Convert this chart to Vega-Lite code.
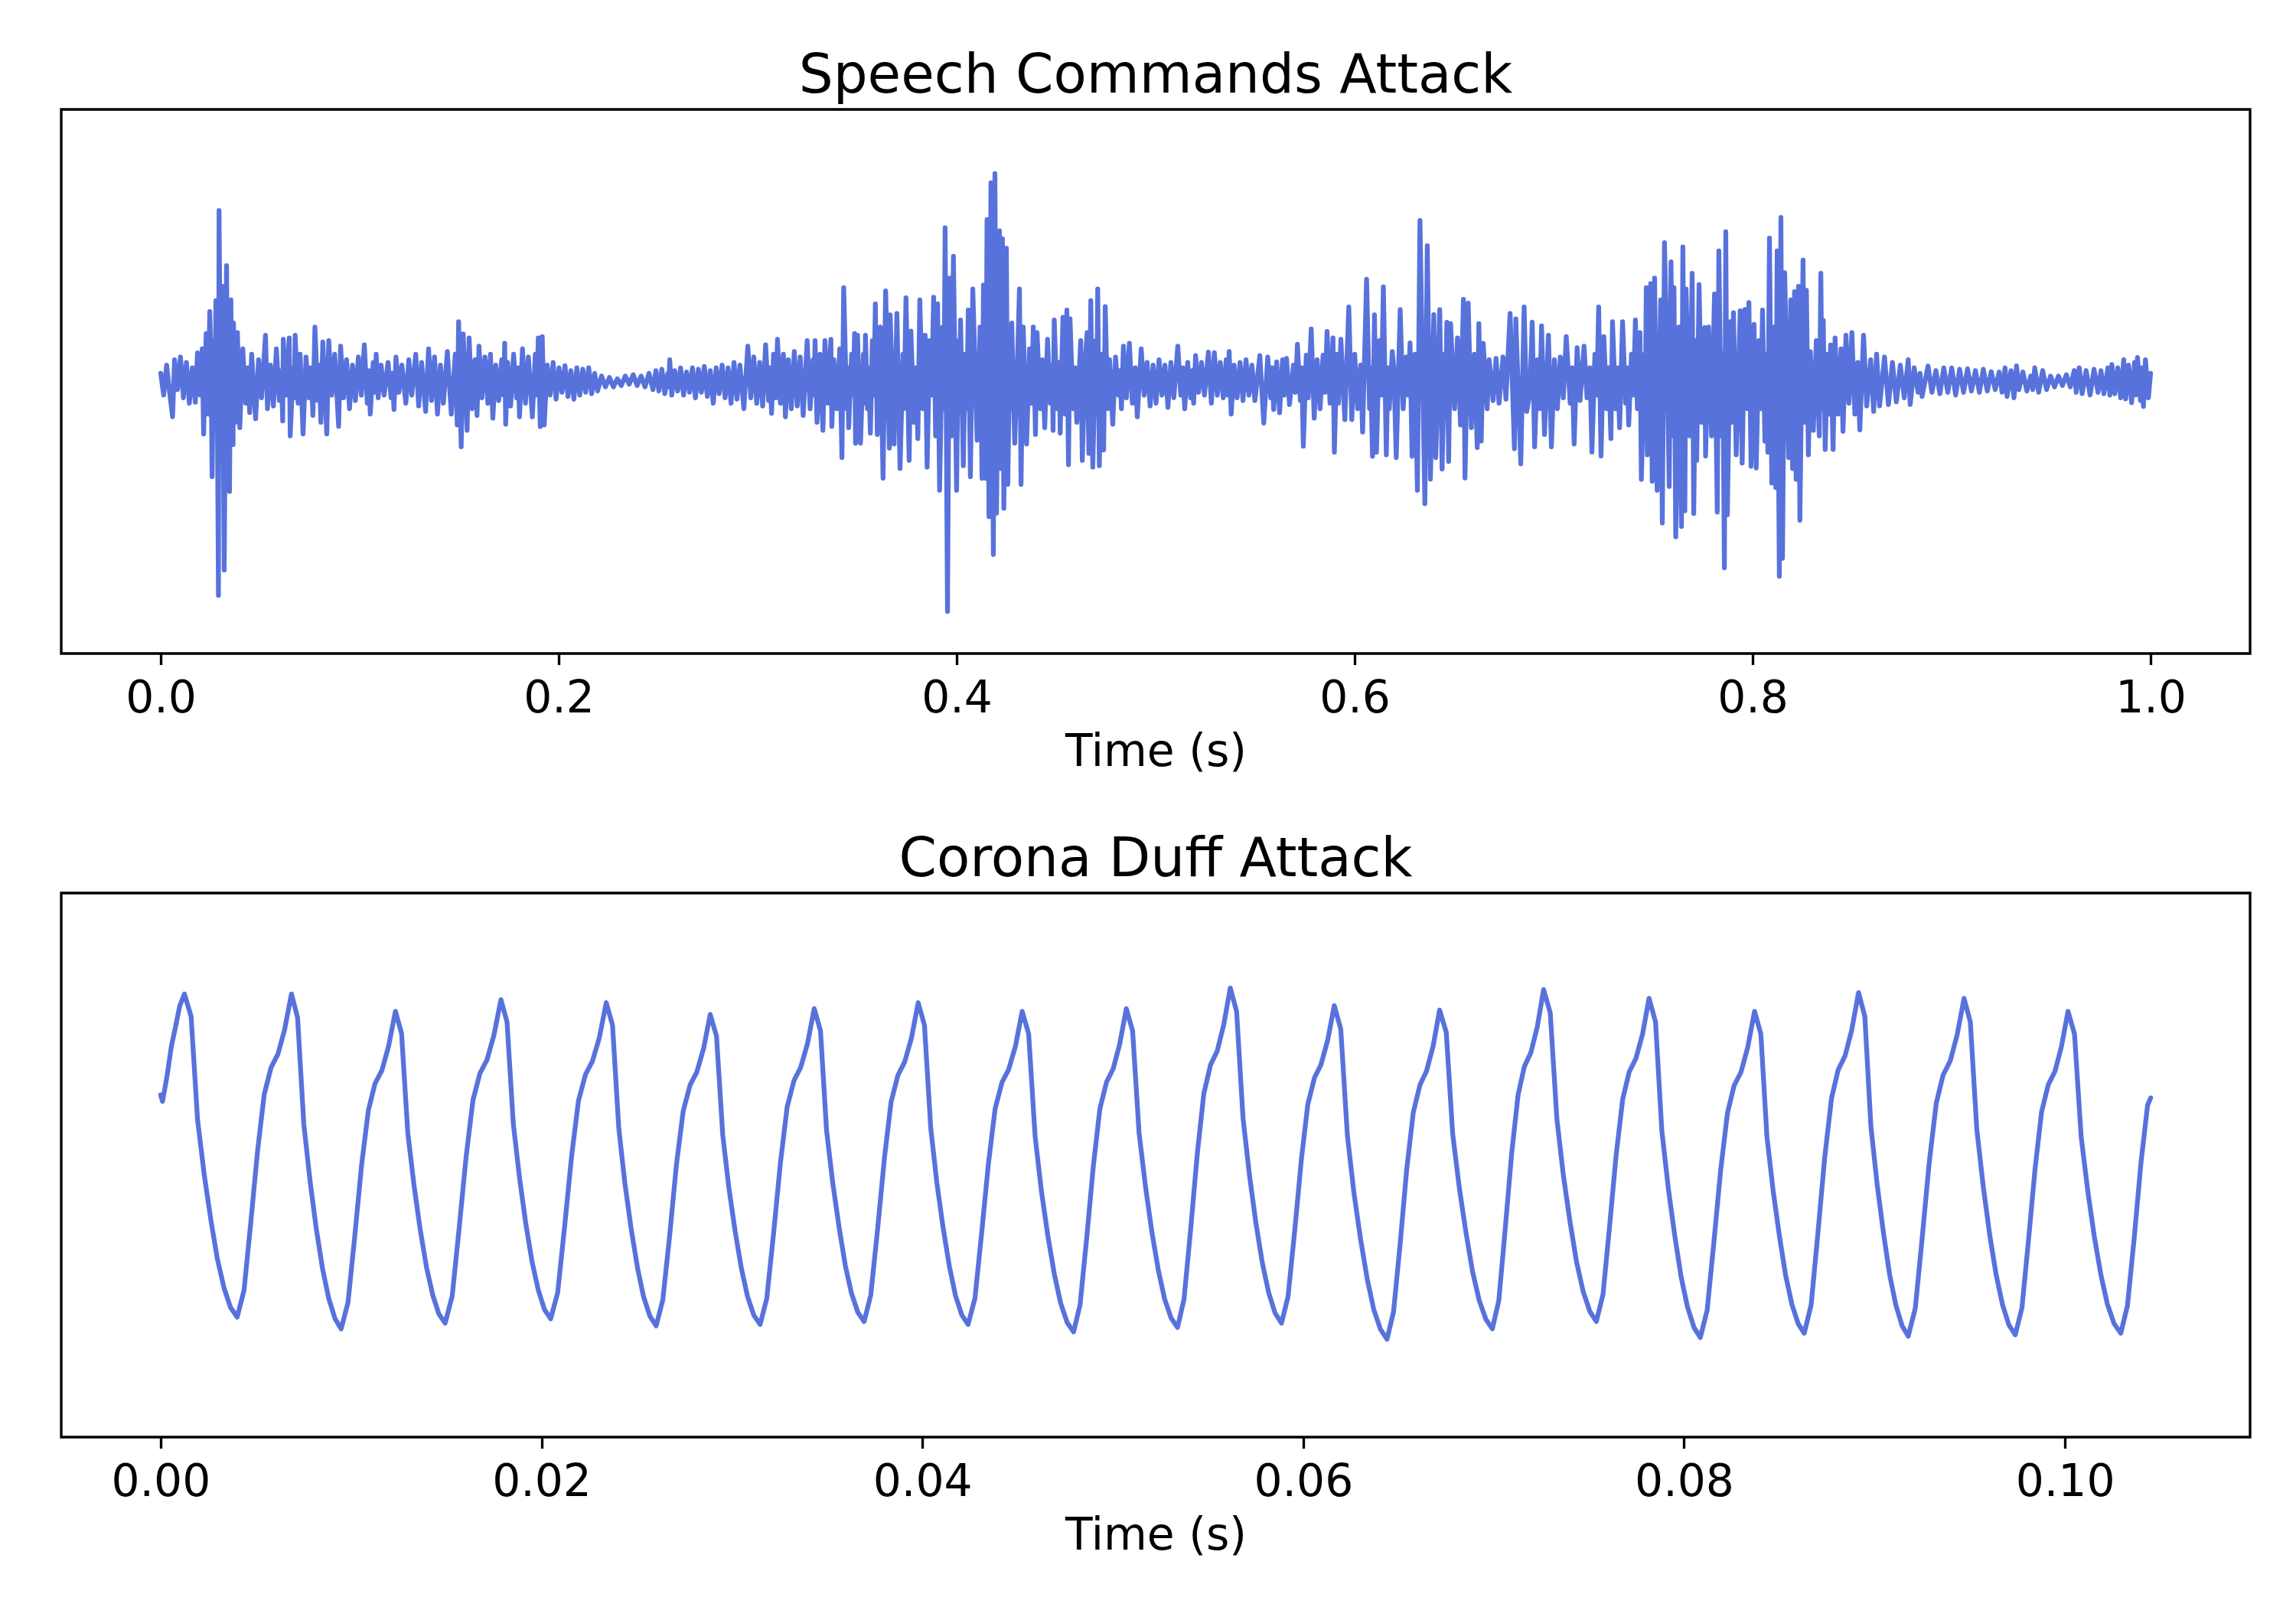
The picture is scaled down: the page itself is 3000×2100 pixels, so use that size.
{
  "$schema": "https://vega.github.io/schema/vega-lite/v6.json",
  "background": "white",
  "padding": {"left": 78, "top": 62, "right": 60, "bottom": 60},
  "spacing": 72,
  "config": {
    "font": "DejaVu Sans",
    "view": {"stroke": "black", "strokeWidth": 3.33},
    "axis": {"labelFont": "DejaVu Sans", "labelFontSize": 58.3, "labelColor": "black", "titleFont": "DejaVu Sans", "titleFontSize": 58.3, "titleFontWeight": "normal", "titleColor": "black", "tickColor": "black", "tickWidth": 3.33, "tickSize": 14.6, "labelPadding": 15.4, "titlePadding": 13, "domain": false, "grid": false, "labelFlush": false, "labelOverlap": false},
    "title": {"font": "DejaVu Sans", "fontSize": 70.8, "fontWeight": "normal", "color": "black", "anchor": "middle", "baseline": "alphabetic", "offset": 7}
  },
  "datasets": {
    "speech": [
{"t":0,"a":0.03},{"t":0.00149,"a":-0.05},{"t":0.00298,"a":0.06},{"t":0.00447,"a":-0.04},{"t":0.00596,"a":-0.13},{"t":0.00695,"a":0.08},{"t":0.00844,"a":-0.03},{"t":0.00993,"a":0.09},{"t":0.01142,"a":-0.06},{"t":0.01291,"a":0.07},{"t":0.0144,"a":-0.08},{"t":0.0159,"a":0.05},{"t":0.01739,"a":-0.076},{"t":0.01848,"a":0.105},{"t":0.01987,"a":-0.05},
{"t":0.02086,"a":0.12},{"t":0.02156,"a":-0.193},{"t":0.02285,"a":0.176},{"t":0.02384,"a":-0.12},{"t":0.02464,"a":0.257},{"t":0.02523,"a":0.1},{"t":0.02583,"a":-0.35},{"t":0.02662,"a":0.15},{"t":0.02722,"a":-0.1},{"t":0.02772,"a":0.297},{"t":0.02831,"a":0.1},{"t":0.02901,"a":-0.786},{"t":0.02931,"a":0.628},{"t":0.0303,"a":-0.3},{"t":0.031,"a":0.35},{"t":0.03189,"a":-0.693},{"t":0.03308,"a":0.426},{"t":0.03378,"a":-0.25},{"t":0.03427,"a":0.05},{"t":0.03457,"a":-0.404},{"t":0.03527,"a":0.3},{"t":0.03576,"a":-0.2},{"t":0.03606,"a":0.1},{"t":0.03636,"a":-0.232},{"t":0.03656,"a":0.215},{"t":0.03755,"a":-0.15},{"t":0.03855,"a":0.18},
{"t":0.03974,"a":-0.17},{"t":0.04123,"a":0.12},{"t":0.04272,"a":-0.08},{"t":0.04371,"a":0.05},{"t":0.0447,"a":-0.114},{"t":0.0457,"a":0.1},{"t":0.04769,"a":-0.137},{"t":0.04918,"a":0.08},{"t":0.05067,"a":-0.06},{"t":0.05265,"a":0.17},{"t":0.05365,"a":-0.1},{"t":0.05514,"a":0.06},{"t":0.05663,"a":-0.09},{"t":0.05812,"a":0.12},{"t":0.05961,"a":-0.07},{"t":0.0606,"a":0.04},{"t":0.0613,"a":-0.145},{"t":0.06159,"a":0.155},{"t":0.06308,"a":-0.05},{"t":0.06457,"a":0.16},{"t":0.06507,"a":-0.2},{"t":0.06656,"a":0.05},{"t":0.06706,"a":-0.06},{"t":0.06755,"a":0.17},{"t":0.06904,"a":-0.08},{"t":0.07004,"a":0.1},{"t":0.07153,"a":-0.193},{"t":0.07302,"a":0.09},{"t":0.07451,"a":-0.06},{"t":0.0755,"a":0.05},{"t":0.07649,"a":-0.125},{"t":0.07749,"a":0.2},{"t":0.07898,"a":-0.07},{"t":0.07967,"a":0.06},{"t":0.08047,"a":-0.15},{"t":0.08146,"a":0.145},{"t":0.08345,"a":-0.193},{"t":0.08444,"a":0.15},{"t":0.08593,"a":-0.05},{"t":0.08742,"a":0.1},{"t":0.08941,"a":-0.165},{"t":0.0904,"a":0.13},{"t":0.09189,"a":-0.06},{"t":0.09338,"a":0.08},{"t":0.09487,"a":-0.1},{"t":0.09636,"a":0.06},{"t":0.09785,"a":-0.07},{"t":0.09934,"a":0.09},{"t":0.10083,"a":-0.05},{"t":0.10232,"a":0.135},{"t":0.10381,"a":-0.08},{"t":0.10451,"a":0.04},{"t":0.1053,"a":-0.12},{"t":0.10679,"a":0.07},{"t":0.10779,"a":-0.04},{"t":0.10828,"a":0.1},{"t":0.10928,"a":-0.06},{"t":0.11077,"a":0.06},{"t":0.11226,"a":-0.05},{"t":0.11425,"a":0.07},{"t":0.11574,"a":-0.06},{"t":0.11643,"a":0.03},{"t":0.11723,"a":-0.103},{"t":0.11822,"a":0.09},{"t":0.11971,"a":-0.04},{"t":0.1212,"a":0.06},{"t":0.12319,"a":-0.08},{"t":0.12468,"a":0.08},{"t":0.12617,"a":-0.05},{"t":0.12815,"a":0.1},{"t":0.12964,"a":-0.09},{"t":0.13113,"a":0.07},{"t":0.13312,"a":-0.11},{"t":0.13461,"a":0.12},{"t":0.1361,"a":-0.07},{"t":0.13759,"a":0.09},{"t":0.13908,"a":-0.12},{"t":0.14057,"a":0.06},{"t":0.14206,"a":-0.08},{"t":0.14405,"a":0.11},
{"t":0.14604,"a":-0.12},{"t":0.14802,"a":0.1},{"t":0.14902,"a":-0.16},{"t":0.14971,"a":0.22},{"t":0.151,"a":-0.24},{"t":0.152,"a":0.175},{"t":0.15398,"a":-0.18},{"t":0.15498,"a":0.16},{"t":0.15647,"a":-0.1},{"t":0.15796,"a":0.08},
{"t":0.15895,"a":-0.125},{"t":0.15994,"a":0.13},{"t":0.16143,"a":-0.06},{"t":0.16292,"a":0.09},{"t":0.16441,"a":-0.08},{"t":0.16571,"a":0.1},{"t":0.1669,"a":-0.135},{"t":0.16839,"a":0.06},{"t":0.16988,"a":-0.07},{"t":0.17137,"a":0.08},{"t":0.17236,"a":-0.05},{"t":0.17286,"a":0.14},{"t":0.17336,"a":-0.157},{"t":0.17435,"a":0.07},{"t":0.17584,"a":-0.09},{"t":0.17733,"a":0.1},{"t":0.17882,"a":-0.06},{"t":0.17961,"a":0.05},{"t":0.18031,"a":-0.13},{"t":0.1818,"a":0.12},{"t":0.18329,"a":-0.08},{"t":0.18478,"a":0.09},{"t":0.18677,"a":-0.13},{"t":0.18826,"a":0.1},{"t":0.18905,"a":-0.05},{"t":0.18975,"a":0.16},{"t":0.19074,"a":-0.166},{"t":0.19173,"a":0.165},{"t":0.19273,"a":-0.16},
{"t":0.19422,"a":0.06},{"t":0.19571,"a":-0.05},{"t":0.1972,"a":0.07},{"t":0.19869,"a":-0.065},{"t":0.20018,"a":0.05},{"t":0.20167,"a":-0.04},{"t":0.20316,"a":0.058},{"t":0.20465,"a":-0.055},{"t":0.20614,"a":0.04},{"t":0.20763,"a":-0.065},{"t":0.20912,"a":0.05},{"t":0.21061,"a":-0.05},{"t":0.2121,"a":0.045},{"t":0.21359,"a":-0.04},{"t":0.21508,"a":0.05},{"t":0.21657,"a":-0.045},{"t":0.21806,"a":0.03},{"t":0.21955,"a":-0.035},
{"t":0.22154,"a":0.02},{"t":0.22352,"a":-0.02},{"t":0.22551,"a":0.015},{"t":0.2275,"a":-0.02},{"t":0.22948,"a":0.01},{"t":0.23147,"a":-0.015},{"t":0.23346,"a":0.02},{"t":0.23545,"a":-0.01},{"t":0.23743,"a":0.025},{"t":0.23942,"a":-0.015},{"t":0.24141,"a":0.02},{"t":0.24339,"a":-0.02},{"t":0.24538,"a":0.03},{"t":0.24737,"a":-0.03},
{"t":0.24886,"a":0.04},{"t":0.25035,"a":-0.035},{"t":0.25184,"a":0.045},{"t":0.25333,"a":-0.045},{"t":0.25482,"a":0.03},{"t":0.25531,"a":-0.02},{"t":0.25581,"a":0.08},{"t":0.2568,"a":-0.05},{"t":0.25829,"a":0.04},{"t":0.25978,"a":-0.035},{"t":0.26127,"a":0.05},{"t":0.26276,"a":-0.05},{"t":0.26426,"a":0.035},{"t":0.26575,"a":-0.04},{"t":0.26724,"a":0.05},{"t":0.26873,"a":-0.06},{"t":0.27022,"a":0.045},{"t":0.27171,"a":-0.04},{"t":0.2732,"a":0.055},{"t":0.27469,"a":-0.055},{"t":0.27618,"a":0.04},{"t":0.27767,"a":-0.08},{"t":0.27916,"a":0.05},{"t":0.28065,"a":-0.045},{"t":0.28214,"a":0.06},{"t":0.28363,"a":-0.06},{"t":0.28512,"a":0.05},{"t":0.28661,"a":-0.08},{"t":0.2881,"a":0.07},{"t":0.28959,"a":-0.065},{"t":0.29108,"a":0.06},
{"t":0.29306,"a":-0.1},{"t":0.29505,"a":0.13},{"t":0.29654,"a":-0.06},{"t":0.29803,"a":0.09},{"t":0.29952,"a":-0.08},{"t":0.30101,"a":0.07},{"t":0.3025,"a":-0.09},{"t":0.30399,"a":0.135},{"t":0.30548,"a":-0.07},{"t":0.30618,"a":0.05},{"t":0.30697,"a":-0.117},{"t":0.30797,"a":0.1},{"t":0.30916,"a":-0.06},{"t":0.30995,"a":0.155},{"t":0.31144,"a":-0.08},{"t":0.31293,"a":0.1},{"t":0.31393,"a":-0.13},{"t":0.31542,"a":0.08},{"t":0.31691,"a":-0.1},{"t":0.3184,"a":0.11},{"t":0.31989,"a":-0.09},{"t":0.32138,"a":0.09},{"t":0.32287,"a":-0.125},
{"t":0.32486,"a":0.15},{"t":0.32635,"a":-0.1},{"t":0.32784,"a":0.08},{"t":0.32833,"a":-0.05},{"t":0.32883,"a":0.15},{"t":0.32982,"a":-0.15},{"t":0.33131,"a":0.1},{"t":0.3328,"a":-0.18},{"t":0.3338,"a":0.15},{"t":0.33529,"a":-0.08},{"t":0.33678,"a":0.155},{"t":0.33727,"a":-0.165},{"t":0.33827,"a":0.08},{"t":0.33976,"a":-0.1},{"t":0.34125,"a":0.12},
{"t":0.34234,"a":-0.28},{"t":0.34323,"a":0.345},{"t":0.34472,"a":-0.1},{"t":0.34522,"a":0.05},{"t":0.34572,"a":-0.17},{"t":0.34721,"a":0.1},{"t":0.3479,"a":-0.05},{"t":0.3487,"a":0.176},{"t":0.34919,"a":-0.227},{"t":0.35019,"a":0.17},{"t":0.35168,"a":-0.227},{"t":0.35317,"a":0.1},{"t":0.35366,"a":-0.08},{"t":0.35416,"a":0.17},{"t":0.35515,"a":-0.1},{"t":0.35565,"a":0.05},{"t":0.35664,"a":-0.19},{"t":0.35764,"a":0.15},{"t":0.35843,"a":-0.05},{"t":0.35913,"a":0.285},{"t":0.36012,"a":-0.195},{"t":0.36161,"a":0.2},{"t":0.363,"a":-0.356},{"t":0.36429,"a":0.333},{"t":0.36618,"a":-0.245},{"t":0.36658,"a":0.245},{"t":0.36857,"a":-0.23},{"t":0.36996,"a":0.25},{"t":0.37155,"a":-0.32},{"t":0.37304,"a":0.1},{"t":0.37353,"a":-0.1},{"t":0.37453,"a":0.308},{"t":0.37612,"a":-0.29},{"t":0.37701,"a":0.185},{"t":0.3785,"a":-0.15},{"t":0.37949,"a":0.05},{"t":0.38049,"a":-0.21},{"t":0.38148,"a":0.3},{"t":0.38297,"a":-0.1},{"t":0.38416,"a":0.17},{"t":0.38516,"a":-0.315},{"t":0.38645,"a":0.15},{"t":0.38744,"a":-0.05},{"t":0.38843,"a":0.31},{"t":0.38943,"a":-0.2},{"t":0.39042,"a":0.285},{"t":0.39142,"a":-0.4},
{"t":0.39291,"a":0.2},{"t":0.3936,"a":-0.1},{"t":0.3942,"a":0.565},{"t":0.39539,"a":-0.845},{"t":0.39638,"a":0.38},{"t":0.39738,"a":-0.2},{"t":0.39837,"a":0.46},{"t":0.39996,"a":-0.4},{"t":0.40085,"a":0.15},{"t":0.40135,"a":-0.05},{"t":0.40195,"a":0.226},{"t":0.40334,"a":-0.31},{"t":0.40433,"a":0.1},{"t":0.40512,"a":-0.1},{"t":0.40582,"a":0.263},{"t":0.40691,"a":-0.35},{"t":0.40811,"a":0.34},{"t":0.41029,"a":-0.216},{"t":0.41178,"a":0.2},{"t":0.41277,"a":-0.356},{"t":0.41347,"a":0.355},{"t":0.41456,"a":-0.356},{"t":0.41526,"a":0.595},{"t":0.41625,"a":-0.497},{"t":0.41724,"a":0.73},{"t":0.41844,"a":-0.636},{"t":0.41923,"a":0.764},{"t":0.42003,"a":-0.484},{"t":0.42152,"a":0.554},{"t":0.42221,"a":-0.32},{"t":0.42301,"a":0.524},{"t":0.4237,"a":-0.466},{"t":0.42499,"a":0.49},{"t":0.42569,"a":-0.378},
{"t":0.42668,"a":0.1},{"t":0.42718,"a":-0.1},{"t":0.42768,"a":0.215},{"t":0.42917,"a":-0.227},{"t":0.43066,"a":0.1},{"t":0.43155,"a":0.34},{"t":0.43235,"a":-0.378},{"t":0.43344,"a":0.2},{"t":0.43513,"a":-0.23},{"t":0.43662,"a":0.12},{"t":0.43761,"a":-0.08},{"t":0.4385,"a":0.2},{"t":0.4396,"a":-0.195},{"t":0.44039,"a":0.18},{"t":0.44208,"a":-0.1},{"t":0.44307,"a":0.08},{"t":0.44427,"a":-0.17},{"t":0.44566,"a":0.155},{"t":0.44705,"a":-0.08},{"t":0.44804,"a":0.06},{"t":0.44844,"a":-0.18},{"t":0.44903,"a":0.226},{"t":0.45053,"a":-0.1},{"t":0.45152,"a":0.07},{"t":0.45202,"a":-0.19},{"t":0.45341,"a":0.236},{"t":0.4545,"a":-0.12},{"t":0.45539,"a":0.263},{"t":0.45619,"a":-0.306},{"t":0.45698,"a":0.23},{"t":0.45847,"a":-0.1},{"t":0.45947,"a":0.05},{"t":0.46036,"a":-0.15},{"t":0.46235,"a":0.15},{"t":0.46314,"a":-0.29},{"t":0.46443,"a":0.05},{"t":0.46553,"a":0.18},{"t":0.46642,"a":-0.264},{"t":0.46741,"a":0.297},{"t":0.46841,"a":-0.315},{"t":0.4699,"a":0.15},{"t":0.47039,"a":-0.05},{"t":0.47089,"a":0.34},{"t":0.47169,"a":-0.31},{"t":0.47288,"a":0.1},{"t":0.47387,"a":-0.252},{"t":0.47467,"a":0.275},{"t":0.47586,"a":-0.1},
{"t":0.47685,"a":0.08},{"t":0.47844,"a":-0.157},{"t":0.47983,"a":0.09},{"t":0.48132,"a":-0.05},{"t":0.48202,"a":0.04},{"t":0.48281,"a":-0.1},{"t":0.48381,"a":0.13},{"t":0.4853,"a":-0.06},{"t":0.48679,"a":0.14},{"t":0.48828,"a":-0.08},{"t":0.48977,"a":0.05},{"t":0.49076,"a":-0.13},{"t":0.49275,"a":0.12},{"t":0.49424,"a":-0.05},{"t":0.49573,"a":0.07},{"t":0.49722,"a":-0.09},{"t":0.49871,"a":0.06},{"t":0.5002,"a":-0.08},{"t":0.50169,"a":0.08},{"t":0.50318,"a":-0.05},{"t":0.50467,"a":0.06},{"t":0.50616,"a":-0.095},{"t":0.50765,"a":0.07},{"t":0.50914,"a":-0.06},{"t":0.51113,"a":0.13},{"t":0.51262,"a":-0.05},{"t":0.51361,"a":0.05},{"t":0.5146,"a":-0.1},{"t":0.51609,"a":0.07},
{"t":0.51758,"a":-0.06},{"t":0.51838,"a":0.04},{"t":0.51907,"a":-0.08},{"t":0.52007,"a":0.095},{"t":0.52156,"a":-0.04},{"t":0.52305,"a":0.07},{"t":0.52454,"a":-0.05},{"t":0.52652,"a":0.108},{"t":0.52801,"a":-0.08},{"t":0.5295,"a":0.106},{"t":0.53099,"a":-0.05},{"t":0.53248,"a":0.07},{"t":0.53397,"a":-0.06},{"t":0.53546,"a":0.08},{"t":0.53626,"a":-0.05},{"t":0.53695,"a":0.11},{"t":0.53795,"a":-0.12},{"t":0.53944,"a":0.06},{"t":0.54093,"a":-0.06},{"t":0.54242,"a":0.07},{"t":0.54391,"a":-0.07},{"t":0.5454,"a":0.08},{"t":0.54689,"a":-0.05},{"t":0.54838,"a":0.06},{"t":0.54987,"a":-0.07},{"t":0.55235,"a":0.095},{"t":0.55434,"a":-0.153},{"t":0.55633,"a":0.09},{"t":0.55782,"a":-0.06},{"t":0.55851,"a":0.05},
{"t":0.55931,"a":-0.103},{"t":0.5608,"a":0.072},{"t":0.56229,"a":-0.115},{"t":0.56378,"a":0.08},{"t":0.56457,"a":-0.05},{"t":0.56577,"a":0.085},{"t":0.56726,"a":-0.085},{"t":0.56924,"a":0.06},{"t":0.57023,"a":-0.04},{"t":0.57123,"a":0.137},{"t":0.57272,"a":-0.07},{"t":0.57341,"a":0.05},{"t":0.57421,"a":-0.238},{"t":0.5757,"a":0.097},{"t":0.57669,"a":-0.06},{"t":0.57818,"a":0.193},{"t":0.57967,"a":-0.135},{"t":0.58116,"a":0.08},{"t":0.58265,"a":-0.1},{"t":0.58414,"a":0.097},{"t":0.58514,"a":-0.04},{"t":0.58613,"a":0.184},{"t":0.58762,"a":-0.08},{"t":0.58911,"a":0.16},{"t":0.58981,"a":-0.26},{"t":0.5911,"a":0.1},{"t":0.59189,"a":-0.08},{"t":0.59308,"a":0.155},{"t":0.59507,"a":-0.14},{"t":0.59706,"a":0.274},
{"t":0.59855,"a":-0.14},{"t":0.60004,"a":0.1},{"t":0.60153,"a":-0.1},{"t":0.60302,"a":0.06},{"t":0.60401,"a":-0.186},{"t":0.606,"a":0.376},{"t":0.60749,"a":-0.1},{"t":0.60799,"a":0.05},{"t":0.60898,"a":-0.275},{"t":0.60997,"a":0.245},{"t":0.61097,"a":-0.26},{"t":0.61246,"a":0.15},{"t":0.61345,"a":-0.05},{"t":0.61444,"a":0.348},{"t":0.61593,"a":-0.27},{"t":0.61673,"a":0.05},{"t":0.61742,"a":-0.1},{"t":0.61891,"a":0.11},{"t":0.61971,"a":0.05},{"t":0.6209,"a":-0.28},{"t":0.62289,"a":0.264},{"t":0.62438,"a":-0.1},
{"t":0.62587,"a":0.09},{"t":0.62686,"a":-0.05},{"t":0.62785,"a":0.142},{"t":0.62885,"a":-0.275},{"t":0.63034,"a":0.1},{"t":0.63153,"a":-0.4},{"t":0.63282,"a":0.592},{"t":0.6353,"a":-0.449},{"t":0.6365,"a":0.499},{"t":0.63809,"a":-0.359},{"t":0.63978,"a":0.246},{"t":0.64077,"a":-0.28},{"t":0.64276,"a":0.264},{"t":0.64395,"a":-0.322},
{"t":0.64524,"a":0.1},{"t":0.64574,"a":-0.05},{"t":0.64633,"a":0.218},{"t":0.64723,"a":-0.294},{"t":0.64822,"a":0.213},{"t":0.65021,"a":-0.1},{"t":0.6517,"a":0.16},{"t":0.65319,"a":-0.16},{"t":0.65468,"a":0.302},{"t":0.65547,"a":-0.355},{"t":0.65706,"a":0.288},{"t":0.65865,"a":-0.17},{"t":0.66014,"a":0.1},{"t":0.66163,"a":-0.243},{"t":0.66243,"a":0.213},{"t":0.66362,"a":-0.219},{"t":0.66461,"a":0.14},
{"t":0.6666,"a":-0.1},{"t":0.66759,"a":0.08},{"t":0.66958,"a":-0.07},{"t":0.67107,"a":0.085},{"t":0.67256,"a":-0.08},{"t":0.67455,"a":0.09},{"t":0.67604,"a":-0.065},{"t":0.67812,"a":0.25},{"t":0.68031,"a":-0.247},{"t":0.681,"a":0.23},{"t":0.68349,"a":-0.303},{"t":0.68518,"a":0.274},{"t":0.68647,"a":-0.11},{"t":0.68796,"a":-0.05},{"t":0.68925,"a":0.218},{"t":0.69044,"a":-0.24},{"t":0.69193,"a":0.08},{"t":0.69292,"a":-0.1},{"t":0.69392,"a":0.204},{"t":0.69541,"a":-0.195},{"t":0.69739,"a":0.17},{"t":0.69888,"a":-0.24},{"t":0.70038,"a":0.08},{"t":0.70187,"a":-0.1},{"t":0.70336,"a":0.09},{"t":0.70485,"a":-0.06},{"t":0.70634,"a":0.165},{"t":0.70832,"a":-0.08},{"t":0.70932,"a":0.05},{"t":0.71031,"a":-0.23},{"t":0.7118,"a":0.124},{"t":0.71329,"a":-0.07},{"t":0.71528,"a":0.13},{"t":0.71677,"a":-0.06},{"t":0.71826,"a":0.05},{"t":0.71925,"a":-0.26},{"t":0.72074,"a":0.1},{"t":0.72173,"a":-0.05},{"t":0.72263,"a":0.274},{"t":0.72382,"a":-0.274},{"t":0.72521,"a":0.165},{"t":0.7267,"a":-0.1},
{"t":0.7277,"a":0.05},{"t":0.72879,"a":-0.21},{"t":0.72958,"a":0.22},{"t":0.73117,"a":-0.1},{"t":0.73217,"a":0.05},{"t":0.73316,"a":-0.17},{"t":0.73465,"a":0.22},{"t":0.73614,"a":-0.08},{"t":0.73693,"a":0.05},{"t":0.73773,"a":-0.16},{"t":0.73912,"a":0.1},{"t":0.74011,"a":-0.05},{"t":0.74111,"a":0.226},{"t":0.7421,"a":-0.1},{"t":0.74339,"a":0.18},{"t":0.74409,"a":-0.36},
{"t":0.74568,"a":0.1},{"t":0.74607,"a":-0.05},{"t":0.74657,"a":0.345},{"t":0.74707,"a":-0.27},{"t":0.74876,"a":0.36},{"t":0.74955,"a":-0.367},{"t":0.75074,"a":0.38},{"t":0.75203,"a":-0.4},{"t":0.75382,"a":0.3},{"t":0.75462,"a":-0.52},{"t":0.75571,"a":0.51},{"t":0.757,"a":0.1},{"t":0.75809,"a":-0.386},{"t":0.75899,"a":0.44},{"t":0.75998,"a":-0.2},{"t":0.76048,"a":0.345},{"t":0.76137,"a":-0.571},{"t":0.76296,"a":0.2},{"t":0.76425,"a":-0.533},{"t":0.76495,"a":0.495},{"t":0.76594,"a":-0.475},{"t":0.76654,"a":0.34},{"t":0.76843,"a":-0.2},{"t":0.76962,"a":0.398},{"t":0.77041,"a":-0.485},{"t":0.77141,"a":0.15},{"t":0.7719,"a":-0.29},{"t":0.77309,"a":0.356},
{"t":0.77439,"a":-0.15},{"t":0.77588,"a":0.198},{"t":0.77637,"a":-0.274},{"t":0.77786,"a":0.2},{"t":0.77935,"a":-0.2},{"t":0.78084,"a":0.322},{"t":0.78223,"a":-0.48},{"t":0.78303,"a":0.48},{"t":0.78432,"a":-0.2},{"t":0.78502,"a":0.1},{"t":0.78581,"a":-0.685},{"t":0.78651,"a":0.55},{"t":0.7873,"a":-0.49},
{"t":0.78879,"a":0.22},{"t":0.78959,"a":-0.15},{"t":0.79038,"a":0.253},{"t":0.79177,"a":-0.27},{"t":0.79376,"a":0.26},{"t":0.79475,"a":-0.3},{"t":0.79614,"a":0.265},{"t":0.79724,"a":-0.1},{"t":0.79813,"a":0.29},{"t":0.79922,"a":-0.312},{"t":0.80071,"a":0.21},{"t":0.80181,"a":-0.318},{"t":0.8032,"a":0.15},{"t":0.80419,"a":-0.1},{"t":0.80498,"a":0.263},{"t":0.80618,"a":-0.22},
{"t":0.80687,"a":0.1},{"t":0.80767,"a":-0.26},{"t":0.80846,"a":0.527},{"t":0.80965,"a":-0.373},{"t":0.81065,"a":0.2},{"t":0.81164,"a":-0.39},{"t":0.81234,"a":0.48},{"t":0.81343,"a":-0.716},{"t":0.81422,"a":0.603},{"t":0.81502,"a":-0.65},{"t":0.81611,"a":0.4},
{"t":0.8181,"a":-0.28},{"t":0.81919,"a":0.3},{"t":0.82008,"a":-0.32},{"t":0.82108,"a":0.33},{"t":0.82187,"a":-0.36},{"t":0.82307,"a":0.35},{"t":0.82376,"a":-0.51},{"t":0.82535,"a":0.446},{"t":0.82605,"a":-0.15},{"t":0.82704,"a":0.335},{"t":0.82803,"a":-0.27},{"t":0.82903,"a":0.11},{"t":0.83052,"a":-0.18},{"t":0.83201,"a":0.15},{"t":0.8335,"a":-0.2},{"t":0.83429,"a":0.398},{"t":0.83489,"a":-0.1},{"t":0.83548,"a":0.225},{"t":0.83648,"a":-0.25},
{"t":0.83767,"a":0.1},{"t":0.83846,"a":-0.12},{"t":0.83916,"a":0.134},{"t":0.84045,"a":-0.25},{"t":0.84144,"a":0.16},{"t":0.84293,"a":-0.12},{"t":0.84442,"a":0.12},{"t":0.84542,"a":-0.183},{"t":0.84691,"a":0.17},{"t":0.8484,"a":-0.08},{"t":0.84989,"a":0.18},{"t":0.85138,"a":-0.12},{"t":0.85287,"a":0.07},{"t":0.85386,"a":-0.178},{"t":0.85575,"a":0.17},
{"t":0.85734,"a":-0.09},{"t":0.85933,"a":0.08},{"t":0.86082,"a":-0.11},{"t":0.86231,"a":0.1},{"t":0.8638,"a":-0.09},{"t":0.86628,"a":0.09},{"t":0.86827,"a":-0.085},{"t":0.87025,"a":0.07},{"t":0.87224,"a":-0.075},{"t":0.87423,"a":0.06},{"t":0.87621,"a":-0.06},{"t":0.8782,"a":0.08},{"t":0.87919,"a":-0.085},{"t":0.88118,"a":0.05},
{"t":0.88317,"a":-0.04},{"t":0.88416,"a":0.03},{"t":0.88515,"a":-0.055},{"t":0.88814,"a":0.057},{"t":0.89012,"a":-0.04},{"t":0.89211,"a":0.04},{"t":0.8941,"a":-0.045},{"t":0.89608,"a":0.05},{"t":0.89807,"a":-0.04},{"t":0.90006,"a":0.05},{"t":0.90204,"a":-0.05},{"t":0.90403,"a":0.045},{"t":0.90602,"a":-0.04},{"t":0.908,"a":0.047},{"t":0.90999,"a":-0.035},{"t":0.91198,"a":0.04},{"t":0.91396,"a":-0.04},{"t":0.91595,"a":0.045},{"t":0.91794,"a":-0.035},{"t":0.91993,"a":0.036},{"t":0.92191,"a":-0.03},{"t":0.9239,"a":0.035},{"t":0.92539,"a":-0.04},{"t":0.92688,"a":0.05},{"t":0.92787,"a":-0.055},{"t":0.92986,"a":0.04},{"t":0.93135,"a":-0.06},{"t":0.93264,"a":0.057},{"t":0.93383,"a":-0.03},{"t":0.93582,"a":0.035},{"t":0.93781,"a":-0.035},{"t":0.93979,"a":0.02},{"t":0.94079,"a":-0.03},{"t":0.94178,"a":0.05},{"t":0.94377,"a":-0.04},{"t":0.94575,"a":0.04},{"t":0.94774,"a":-0.03},{"t":0.94973,"a":0.02},{"t":0.95172,"a":-0.02},{"t":0.9537,"a":0.02},{"t":0.95569,"a":-0.015},{"t":0.95768,"a":0.025},{"t":0.95966,"a":-0.02},
{"t":0.96165,"a":0.04},{"t":0.96264,"a":-0.04},{"t":0.96413,"a":0.05},{"t":0.96562,"a":-0.045},{"t":0.96761,"a":0.04},{"t":0.9696,"a":-0.05},{"t":0.97158,"a":0.045},{"t":0.97357,"a":-0.04},{"t":0.97506,"a":0.04},{"t":0.97655,"a":-0.045},
{"t":0.97854,"a":0.05},{"t":0.97953,"a":-0.05},{"t":0.98053,"a":0.062},{"t":0.98202,"a":-0.045},{"t":0.98351,"a":0.05},{"t":0.985,"a":-0.06},{"t":0.98649,"a":0.08},{"t":0.98748,"a":-0.064},{"t":0.98897,"a":0.06},{"t":0.99046,"a":-0.078},{"t":0.99195,"a":0.07},{"t":0.99245,"a":-0.05},{"t":0.99344,"a":0.088},{"t":0.99493,"a":-0.07},{"t":0.99543,"a":0.05},{"t":0.99642,"a":-0.092},{"t":0.99741,"a":0.08},{"t":0.9989,"a":-0.06},{"t":1.0,"a":0.03}
    ],
    "corona": [
{"t":0,"a":0.258},{"t":0.0001,"a":0.234},{"t":0.00034,"a":0.329},{"t":0.00056,"a":0.435},{"t":0.0008,"a":0.514},{"t":0.001,"a":0.584},{"t":0.00125,"a":0.629},
{"t":0.0016,"a":0.546},{"t":0.00194,"a":0.166},{"t":0.00229,"a":-0.036},{"t":0.00264,"a":-0.203},{"t":0.00298,"a":-0.345},{"t":0.00333,"a":-0.452},{"t":0.00367,"a":-0.523},{"t":0.00402,"a":-0.559},{"t":0.00438,"a":-0.46},{"t":0.00473,"a":-0.214},{"t":0.00509,"a":0.052},{"t":0.00544,"a":0.26},{"t":0.0058,"a":0.359},{"t":0.00616,"a":0.408},{"t":0.00651,"a":0.498},{"t":0.00687,"a":0.629},
{"t":0.00719,"a":0.543},{"t":0.00752,"a":0.149},{"t":0.00785,"a":-0.06},{"t":0.00817,"a":-0.233},{"t":0.0085,"a":-0.38},{"t":0.00883,"a":-0.491},{"t":0.00916,"a":-0.565},{"t":0.00948,"a":-0.602},{"t":0.00984,"a":-0.505},{"t":0.01019,"a":-0.264},{"t":0.01055,"a":-0.002},{"t":0.01091,"a":0.202},{"t":0.01126,"a":0.3},{"t":0.01162,"a":0.348},{"t":0.01197,"a":0.437},{"t":0.01233,"a":0.565},
{"t":0.01265,"a":0.485},{"t":0.01298,"a":0.118},{"t":0.01331,"a":-0.077},{"t":0.01363,"a":-0.237},{"t":0.01396,"a":-0.375},{"t":0.01429,"a":-0.478},{"t":0.01461,"a":-0.547},{"t":0.01494,"a":-0.581},{"t":0.01531,"a":-0.482},{"t":0.01567,"a":-0.236},{"t":0.01604,"a":0.03},{"t":0.0164,"a":0.238},{"t":0.01677,"a":0.338},{"t":0.01714,"a":0.387},{"t":0.0175,"a":0.477},{"t":0.01787,"a":0.608},
{"t":0.01819,"a":0.526},{"t":0.01852,"a":0.151},{"t":0.01885,"a":-0.049},{"t":0.01917,"a":-0.213},{"t":0.0195,"a":-0.354},{"t":0.01983,"a":-0.459},{"t":0.02015,"a":-0.53},{"t":0.02048,"a":-0.565},{"t":0.02085,"a":-0.469},{"t":0.02121,"a":-0.228},{"t":0.02158,"a":0.032},{"t":0.02194,"a":0.236},{"t":0.02231,"a":0.333},{"t":0.02267,"a":0.381},{"t":0.02304,"a":0.469},{"t":0.0234,"a":0.597},
{"t":0.02373,"a":0.514},{"t":0.02406,"a":0.134},{"t":0.02438,"a":-0.068},{"t":0.02471,"a":-0.235},{"t":0.02504,"a":-0.377},{"t":0.02536,"a":-0.484},{"t":0.02569,"a":-0.555},{"t":0.02602,"a":-0.591},{"t":0.02637,"a":-0.496},{"t":0.02673,"a":-0.259},{"t":0.02708,"a":-0.002},{"t":0.02744,"a":0.198},{"t":0.0278,"a":0.294},{"t":0.02815,"a":0.341},{"t":0.02851,"a":0.428},{"t":0.02886,"a":0.554},
{"t":0.02919,"a":0.474},{"t":0.02952,"a":0.109},{"t":0.02984,"a":-0.084},{"t":0.03017,"a":-0.244},{"t":0.0305,"a":-0.381},{"t":0.03082,"a":-0.483},{"t":0.03115,"a":-0.552},{"t":0.03148,"a":-0.586},{"t":0.03183,"a":-0.49},{"t":0.03219,"a":-0.249},{"t":0.03255,"a":0.011},{"t":0.0329,"a":0.214},{"t":0.03326,"a":0.311},{"t":0.03361,"a":0.359},{"t":0.03397,"a":0.447},{"t":0.03432,"a":0.575},
{"t":0.03465,"a":0.494},{"t":0.03497,"a":0.126},{"t":0.0353,"a":-0.069},{"t":0.03563,"a":-0.23},{"t":0.03595,"a":-0.368},{"t":0.03628,"a":-0.472},{"t":0.03661,"a":-0.541},{"t":0.03694,"a":-0.575},{"t":0.03729,"a":-0.478},{"t":0.03765,"a":-0.235},{"t":0.03801,"a":0.027},{"t":0.03836,"a":0.233},{"t":0.03872,"a":0.331},{"t":0.03907,"a":0.379},{"t":0.03943,"a":0.468},{"t":0.03978,"a":0.597},
{"t":0.04011,"a":0.514},{"t":0.04044,"a":0.136},{"t":0.04076,"a":-0.065},{"t":0.04109,"a":-0.231},{"t":0.04142,"a":-0.373},{"t":0.04174,"a":-0.48},{"t":0.04207,"a":-0.551},{"t":0.0424,"a":-0.586},{"t":0.04276,"a":-0.49},{"t":0.04311,"a":-0.252},{"t":0.04347,"a":0.006},{"t":0.04382,"a":0.207},{"t":0.04418,"a":0.304},{"t":0.04453,"a":0.351},{"t":0.04489,"a":0.438},{"t":0.04524,"a":0.565},
{"t":0.04558,"a":0.483},{"t":0.04592,"a":0.106},{"t":0.04625,"a":-0.095},{"t":0.04659,"a":-0.26},{"t":0.04693,"a":-0.401},{"t":0.04726,"a":-0.507},{"t":0.0476,"a":-0.578},{"t":0.04794,"a":-0.613},{"t":0.04828,"a":-0.514},{"t":0.04863,"a":-0.268},{"t":0.04898,"a":-0.002},{"t":0.04932,"a":0.206},{"t":0.04967,"a":0.305},{"t":0.05002,"a":0.354},{"t":0.05036,"a":0.444},{"t":0.05071,"a":0.575},
{"t":0.05104,"a":0.493},{"t":0.05138,"a":0.118},{"t":0.05172,"a":-0.081},{"t":0.05205,"a":-0.245},{"t":0.05239,"a":-0.386},{"t":0.05272,"a":-0.492},{"t":0.05306,"a":-0.562},{"t":0.0534,"a":-0.597},{"t":0.05374,"a":-0.493},{"t":0.05409,"a":-0.235},{"t":0.05444,"a":0.044},{"t":0.05478,"a":0.263},{"t":0.05513,"a":0.368},{"t":0.05548,"a":0.419},{"t":0.05582,"a":0.514},{"t":0.05617,"a":0.651},
{"t":0.0565,"a":0.565},{"t":0.05684,"a":0.171},{"t":0.05718,"a":-0.039},{"t":0.05751,"a":-0.211},{"t":0.05785,"a":-0.359},{"t":0.05819,"a":-0.47},{"t":0.05852,"a":-0.544},{"t":0.05886,"a":-0.581},{"t":0.0592,"a":-0.484},{"t":0.05955,"a":-0.243},{"t":0.0599,"a":0.019},{"t":0.06024,"a":0.223},{"t":0.06059,"a":0.321},{"t":0.06093,"a":0.369},{"t":0.06128,"a":0.458},{"t":0.06163,"a":0.586},
{"t":0.06197,"a":0.5},{"t":0.06232,"a":0.108},{"t":0.06266,"a":-0.101},{"t":0.06301,"a":-0.272},{"t":0.06336,"a":-0.419},{"t":0.0637,"a":-0.53},{"t":0.06405,"a":-0.603},{"t":0.0644,"a":-0.64},{"t":0.06474,"a":-0.54},{"t":0.06509,"a":-0.289},{"t":0.06543,"a":-0.018},{"t":0.06578,"a":0.194},{"t":0.06613,"a":0.295},{"t":0.06647,"a":0.345},{"t":0.06682,"a":0.437},{"t":0.06716,"a":0.57},
{"t":0.06751,"a":0.488},{"t":0.06785,"a":0.113},{"t":0.0682,"a":-0.086},{"t":0.06855,"a":-0.25},{"t":0.06889,"a":-0.391},{"t":0.06924,"a":-0.497},{"t":0.06959,"a":-0.567},{"t":0.06993,"a":-0.602},{"t":0.07027,"a":-0.498},{"t":0.0706,"a":-0.24},{"t":0.07094,"a":0.039},{"t":0.07128,"a":0.257},{"t":0.07161,"a":0.362},{"t":0.07195,"a":0.413},{"t":0.07229,"a":0.508},{"t":0.07262,"a":0.645},
{"t":0.07297,"a":0.56},{"t":0.07332,"a":0.169},{"t":0.07366,"a":-0.038},{"t":0.07401,"a":-0.209},{"t":0.07435,"a":-0.355},{"t":0.0747,"a":-0.465},{"t":0.07505,"a":-0.538},{"t":0.07539,"a":-0.575},{"t":0.07574,"a":-0.476},{"t":0.07608,"a":-0.23},{"t":0.07643,"a":0.036},{"t":0.07678,"a":0.244},{"t":0.07712,"a":0.343},{"t":0.07747,"a":0.392},{"t":0.07782,"a":0.482},{"t":0.07816,"a":0.613},
{"t":0.0785,"a":0.526},{"t":0.07883,"a":0.127},{"t":0.07917,"a":-0.085},{"t":0.07951,"a":-0.26},{"t":0.07984,"a":-0.41},{"t":0.08018,"a":-0.522},{"t":0.08052,"a":-0.597},{"t":0.08085,"a":-0.634},{"t":0.08121,"a":-0.534},{"t":0.08156,"a":-0.286},{"t":0.08192,"a":-0.018},{"t":0.08228,"a":0.192},{"t":0.08263,"a":0.293},{"t":0.08299,"a":0.342},{"t":0.08334,"a":0.433},{"t":0.0837,"a":0.565},
{"t":0.08403,"a":0.482},{"t":0.08435,"a":0.104},{"t":0.08468,"a":-0.097},{"t":0.08501,"a":-0.263},{"t":0.08533,"a":-0.405},{"t":0.08566,"a":-0.512},{"t":0.08599,"a":-0.583},{"t":0.08631,"a":-0.618},{"t":0.08667,"a":-0.514},{"t":0.08702,"a":-0.255},{"t":0.08738,"a":0.026},{"t":0.08774,"a":0.245},{"t":0.08809,"a":0.35},{"t":0.08845,"a":0.401},{"t":0.0888,"a":0.496},{"t":0.08916,"a":0.634},
{"t":0.08949,"a":0.546},{"t":0.08981,"a":0.141},{"t":0.09014,"a":-0.073},{"t":0.09047,"a":-0.25},{"t":0.09079,"a":-0.402},{"t":0.09112,"a":-0.515},{"t":0.09145,"a":-0.591},{"t":0.09177,"a":-0.629},{"t":0.09214,"a":-0.526},{"t":0.0925,"a":-0.269},{"t":0.09287,"a":0.009},{"t":0.09324,"a":0.227},{"t":0.0936,"a":0.331},{"t":0.09397,"a":0.382},{"t":0.09433,"a":0.476},{"t":0.0947,"a":0.613},
{"t":0.09503,"a":0.526},{"t":0.09537,"a":0.131},{"t":0.09571,"a":-0.08},{"t":0.09604,"a":-0.253},{"t":0.09638,"a":-0.401},{"t":0.09672,"a":-0.513},{"t":0.09705,"a":-0.587},{"t":0.09739,"a":-0.624},{"t":0.09774,"a":-0.525},{"t":0.09808,"a":-0.279},{"t":0.09843,"a":-0.013},{"t":0.09877,"a":0.195},{"t":0.09912,"a":0.295},{"t":0.09947,"a":0.344},{"t":0.09981,"a":0.434},{"t":0.10016,"a":0.565},
{"t":0.1005,"a":0.482},{"t":0.10085,"a":0.104},{"t":0.1012,"a":-0.097},{"t":0.10154,"a":-0.263},{"t":0.10189,"a":-0.405},{"t":0.10223,"a":-0.512},{"t":0.10258,"a":-0.583},{"t":0.10293,"a":-0.618},{"t":0.10328,"a":-0.517},{"t":0.10364,"a":-0.265},{"t":0.10399,"a":0.008},{"t":0.10434,"a":0.221},{"t":0.1045,"a":0.247}
    ]
  },
  "vconcat": [
    {
      "title": "Speech Commands Attack",
      "width": 2860,
      "height": 711,
      "data": {"name": "speech"},
      "mark": {"type": "line", "color": "#5872dc", "strokeWidth": 6.25, "strokeJoin": "round", "strokeCap": "round", "clip": true},
      "encoding": {
        "x": {"field": "t", "type": "quantitative", "scale": {"domain": [-0.05, 1.05], "nice": false, "zero": false}, "axis": {"title": "Time (s)", "values": [0, 0.2, 0.4, 0.6, 0.8, 1.0], "format": ".1f"}},
        "y": {"field": "a", "type": "quantitative", "scale": {"domain": [-1, 1], "nice": false, "zero": false}, "axis": null}
      }
    },
    {
      "title": "Corona Duff Attack",
      "width": 2860,
      "height": 711,
      "data": {"name": "corona"},
      "mark": {"type": "line", "color": "#5872dc", "strokeWidth": 6.25, "strokeJoin": "round", "strokeCap": "round", "clip": true},
      "encoding": {
        "x": {"field": "t", "type": "quantitative", "scale": {"domain": [-0.00522, 0.10972], "nice": false, "zero": false}, "axis": {"title": "Time (s)", "values": [0, 0.02, 0.04, 0.06, 0.08, 0.1], "format": ".2f"}},
        "y": {"field": "a", "type": "quantitative", "scale": {"domain": [-1, 1], "nice": false, "zero": false}, "axis": null}
      }
    }
  ]
}
